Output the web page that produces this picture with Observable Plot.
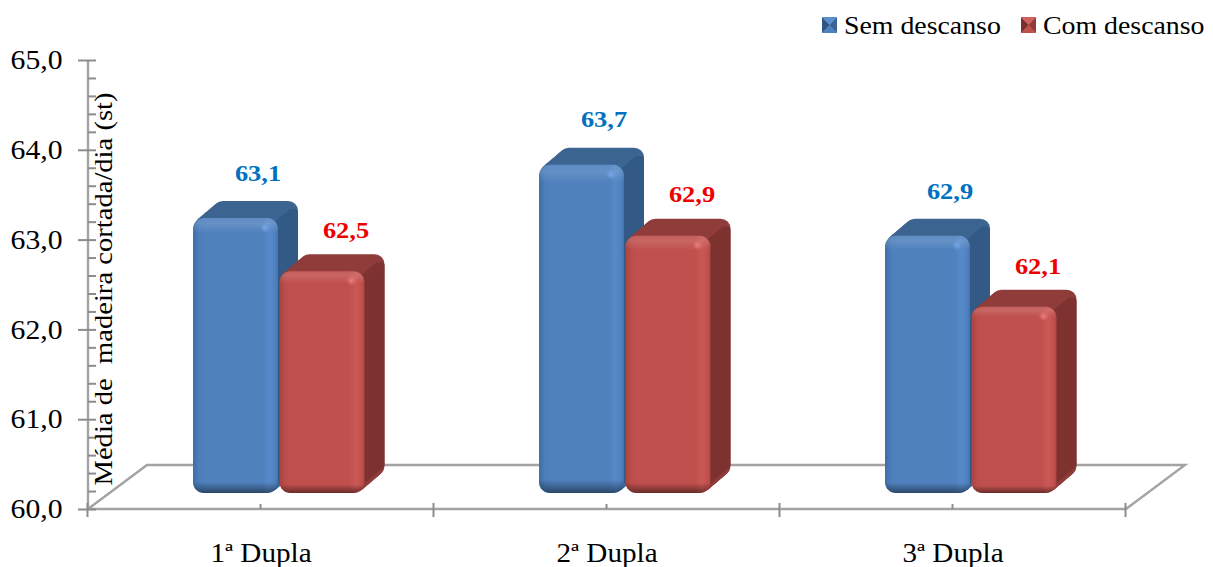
<!DOCTYPE html>
<html lang="pt">
<head>
<meta charset="utf-8">
<script src="https://cdn.jsdelivr.net/npm/d3@7"></script>
<script src="https://cdn.jsdelivr.net/npm/@observablehq/plot@0.6"></script>
<style>
  html, body { margin: 0; padding: 0; background: #fff; overflow: hidden; }
  #legend { position: relative; height: 42px; font: 26px "Liberation Serif", serif; color: #000; }
  #legend .swatch { position: absolute; top: 17px; width: 15px; height: 16px; }
  #legend .name { position: absolute; top: 11px; transform: scaleX(1.07); transform-origin: left center; white-space: nowrap; line-height: 30px; }
  svg { display: block; }
</style>
</head>
<body>
<div id="legend"></div>
<div id="chart"></div>
<script>
// Average wood cut per day, by pair of workers, with and without rest breaks.
const duplas = ["1ª Dupla", "2ª Dupla", "3ª Dupla"];
const semDescanso = [63.1, 63.7, 62.9];
const comDescanso = [62.5, 62.9, 62.1];
const majorTicks = [60, 61, 62, 63, 64, 65];
const minorTicks = [60.2, 60.4, 60.6, 60.8, 61.2, 61.4, 61.6, 61.8, 62.2, 62.4, 62.6, 62.8,
                    63.2, 63.4, 63.6, 63.8, 64.2, 64.4, 64.6, 64.8];

const semRows = duplas.map((dupla, i) => ({dupla, value: semDescanso[i]}));
const comRows = duplas.map((dupla, i) => ({dupla, value: comDescanso[i]}));

const GREY = "#a3a3a3";
const FONT = "Liberation Serif";
const DEPTH = 20;          // steps of the extruded bar depth
const FLOOR = {dx: 59, dy: -44};
const TEXT_WIDEN = 1.1;

const SVG_NS = "http://www.w3.org/2000/svg";

// Places a mark in the bars' pseudo-3D plane: a shift, plus a slight vertical
// compression about the value 60 because that plane sits behind the axis.
const inPlane = (dx, dy) => ({
  render(index, scales, values, dimensions, context, next) {
    const g = next(index, scales, values, dimensions, context);
    const base = scales.y(60);
    const k = 0.988;
    const w = document.createElementNS(SVG_NS, "g");
    w.setAttribute("transform", `translate(${dx},${dy + base * (1 - k)}) scale(1,${k})`);
    w.appendChild(g);
    return w;
  }
});

// One series of bars: receding faces first, then the front face and its highlight.
function bars(rows, dx, top, side, front, glow) {
  const layers = [];
  const common = {x: "dupla", y1: () => 60, y2: "value"};
  for (let i = DEPTH; i >= 1; --i) {
    layers.push(Plot.barY(rows, {...common, fill: top, rx: 10, ...inPlane(dx + i, -16 - i * 0.85)}));
  }
  for (let i = DEPTH; i >= 1; --i) {
    layers.push(Plot.barY(rows, {...common, fill: side, insetLeft: 75, rx: 4, insetTop: 8, insetBottom: 8, ...inPlane(dx + i, -16 - i * 0.85)}));
  }
  layers.push(Plot.barY(rows, {...common, fill: `url(#${front}-h)`, rx: 11, ...inPlane(dx, -16)}));
  layers.push(Plot.barY(rows, {...common, fill: "url(#bevel-v)", rx: 11, ...inPlane(dx, -16)}));
  layers.push(Plot.dot(rows, {x: "dupla", y: "value", r: 5, fill: `url(#${glow})`, ...inPlane(dx + 29, -7)}));
  return layers;
}

// Floor of the chart: the front and back edges joined by two receding edges.
function floor(index, {y}, values, dims) {
  const x0 = dims.marginLeft, x1 = dims.width - dims.marginRight, y0 = y(60);
  const p = document.createElementNS(SVG_NS, "path");
  p.setAttribute("d",
    `M${x0},${y0}L${x0 + FLOOR.dx},${y0 + FLOOR.dy}L${x1 + FLOOR.dx},${y0 + FLOOR.dy}L${x1},${y0}Z` +
    `M${x0},${y(65)}V${y0}`);
  p.setAttribute("fill", "none");
  p.setAttribute("stroke", GREY);
  p.setAttribute("stroke-width", 2.4);
  return p;
}

// Ticks on the category axis: long ones between groups, short ones at group centres.
function categoryTicks(index, {x, y}, values, dims) {
  const g = document.createElementNS(SVG_NS, "g");
  const y0 = y(60), step = x.step(), first = x(duplas[0]) + x.bandwidth() / 2;
  const add = (px, y1, y2) => {
    const l = document.createElementNS(SVG_NS, "line");
    l.setAttribute("x1", px); l.setAttribute("x2", px);
    l.setAttribute("y1", y1); l.setAttribute("y2", y2);
    l.setAttribute("stroke", "#8c8c8c"); l.setAttribute("stroke-width", 2);
    g.appendChild(l);
  };
  duplas.forEach((d, i) => {
    add(first + i * step, y0 - 5, y0);
    add(first + (i - 0.5) * step, y0 - 6, y0 + 8);
  });
  add(first + 2.5 * step, y0 - 6, y0 + 8);
  return g;
}

const decimal = (d) => d.toFixed(1).replace(".", ",");

const chart = Plot.plot({
  width: 1213,
  height: 525,
  marginLeft: 88,
  marginRight: 87,
  marginTop: 18,
  marginBottom: 58,
  style: {fontFamily: FONT, background: "#fff", overflow: "visible"},
  x: {domain: duplas, paddingInner: 0.754, paddingOuter: 0.377, label: null},
  y: {domain: [60, 65], label: null},
  marks: [
    floor,
    Plot.axisY({ticks: majorTicks, tickSize: 10, tickPadding: 16, tickFormat: decimal, fontSize: 27, stroke: "#8c8c8c", fill: "#000", strokeWidth: 2, label: null}),
    Plot.axisY({ticks: [...majorTicks, ...minorTicks], tickSize: -8, tickFormat: () => "", stroke: "#8c8c8c", strokeWidth: 2, label: null}),
    Plot.axisX({tickSize: 0, tickPadding: 34, fontSize: 26.5, fill: "#000", label: null}),
    categoryTicks,
    ...bars(semRows, -25, "#3d6591", "#335a86", "blue", "glow-blue"),
    ...bars(comRows, 61.5, "#8f3d3b", "#7e3331", "red", "glow-red"),
    Plot.text(["Média de\u00a0 madeira cortada/dia (st)"], {
      frameAnchor: "left", textAnchor: "middle", rotate: -90, dx: 15, dy: 4, fontSize: 26, fill: "#000"
    }),
    Plot.text(semRows, {x: "dupla", y: "value", text: (d) => decimal(d.value), dx: -3, dy: -58, fontSize: 24, fontWeight: "bold", fill: "#0070c0"}),
    Plot.text(comRows, {x: "dupla", y: "value", text: (d) => decimal(d.value), dx: 85, dy: -55, fontSize: 24, fontWeight: "bold", fill: "#ee0000"})
  ]
});

// Gradients that give the front faces their bevelled look.
const defs = d3.select(chart).insert("defs", ":first-child");
const linear = (id, vertical, stops) => {
  const g = defs.append("linearGradient").attr("id", id)
    .attr("x2", vertical ? 0 : 1).attr("y2", vertical ? 1 : 0);
  stops.forEach(([o, c, a = 1]) => g.append("stop").attr("offset", o).attr("stop-color", c).attr("stop-opacity", a));
};
linear("blue-h", false, [[0, "#3f6ea8"], [0.07, "#4c7eba"], [0.14, "#4f81bd"], [0.82, "#4f81bd"], [0.9, "#568aca"], [0.97, "#4f81bd"], [1, "#4373ae"]]);
linear("red-h", false, [[0, "#a84341"], [0.07, "#bb4e4b"], [0.14, "#c0504d"], [0.82, "#c0504d"], [0.9, "#ca5955"], [0.97, "#c0504d"], [1, "#ab4542"]]);
linear("bevel-v", true, [[0, "#fff", 0.08], [0.02, "#fff", 0.13], [0.055, "#fff", 0], [0.96, "#000", 0], [1, "#000", 0.45]]);
for (const [id, c] of [["glow-blue", "#76a8e6"], ["glow-red", "#ee7d78"]]) {
  const r = defs.append("radialGradient").attr("id", id);
  r.append("stop").attr("offset", 0).attr("stop-color", c);
  r.append("stop").attr("offset", 1).attr("stop-color", c).attr("stop-opacity", 0);
}

document.getElementById("chart").appendChild(chart);

// The typeface is set a little wide across the whole chart.
chart.querySelectorAll("text").forEach((t) => {
  if (!t.textContent) return;
  t.setAttribute("textLength", t.getComputedTextLength() * TEXT_WIDEN);
  t.setAttribute("lengthAdjust", "spacingAndGlyphs");
});

// Legend above the plot.
const legendEntries = [
  {name: "Sem descanso", swatchX: 822, textX: 844, c: ["#5c8ecb", "#3a6596", "#2f5580", "#4f81bd"]},
  {name: "Com descanso", swatchX: 1021, textX: 1043, c: ["#d0625e", "#8f3d3b", "#7a302e", "#c0504d"]}
];
const legend = d3.select("#legend");
for (const e of legendEntries) {
  legend.append("div").attr("class", "swatch").style("left", `${e.swatchX}px`)
    .style("background", `conic-gradient(${e.c[0]} 0 45deg, ${e.c[1]} 45deg 135deg, ${e.c[3]} 135deg 225deg, ${e.c[2]} 225deg 315deg, ${e.c[0]} 315deg)`);
  legend.append("div").attr("class", "name").style("left", `${e.textX}px`).text(e.name);
}
</script>
</body>
</html>
